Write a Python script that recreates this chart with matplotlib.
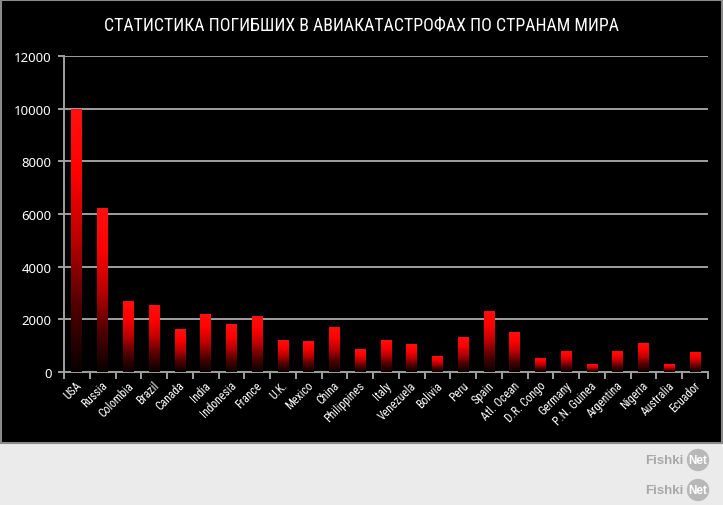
import matplotlib
matplotlib.use("Agg")
import matplotlib.pyplot as plt
import numpy as np
from matplotlib import font_manager
from matplotlib.patches import Rectangle
from matplotlib.colors import LinearSegmentedColormap
from matplotlib.transforms import ScaledTranslation

countries = ["USA", "Russia", "Colombia", "Brazil", "Canada", "India", "Indonesia",
             "France", "U.K.", "Mexico", "China", "Philippines", "Italy", "Venezuela",
             "Bolivia", "Peru", "Spain", "Atl. Ocean", "D.R. Congo", "Germany",
             "P.N. Guinea", "Argentina", "Nigeria", "Australia", "Ecuador"]
deaths = [10000, 6220, 2700, 2550, 1630, 2200, 1820, 2120, 1230, 1190, 1720, 870,
          1230, 1060, 610, 1330, 2330, 1520, 540, 810, 300, 810, 1110, 300, 770]
yticks = [0, 2000, 4000, 6000, 8000, 10000, 12000]
title = "СТАТИСТИКА ПОГИБШИХ В АВИАКАТАСТРОФАХ ПО СТРАНАМ МИРА"

available = {f.name for f in font_manager.fontManager.ttflist}
narrow = None
for cand in ["Liberation Sans Narrow", "Roboto Condensed", "Open Sans Condensed", "DejaVu Sans Condensed"]:
    if cand in available:
        narrow = cand
        break
if narrow is None:
    narrow = "DejaVu Sans"
    narrow_stretch = "condensed"
else:
    narrow_stretch = "normal"

W, H = 723, 506
fig = plt.figure(figsize=(W / 100, H / 100), dpi=100)
fig.patch.set_facecolor("#ebebeb")

# black panel with grey frame
fig.patches.append(Rectangle((1 / W, 62 / H), (W - 2) / W, (H - 63) / H,
                             transform=fig.transFigure, facecolor="black",
                             edgecolor="#8a8a8a", linewidth=1.5, zorder=0))

ax = fig.add_axes([64 / W, (H - 373) / H, (708 - 64) / W, (373 - 57) / H])
ax.set_zorder(2)
ax.set_facecolor("black")

n = len(countries)
x = np.arange(n)
cmap = LinearSegmentedColormap.from_list("redgrad", ["#080000", "#500000", "#bb0000", "#ff0000", "#ff1010"])
grad = np.linspace(0, 1, 256).reshape(-1, 1)

bars = ax.bar(x, deaths, width=0.42, color="none", edgecolor="none", zorder=3)
for b in bars:
    x0, w, h = b.get_x(), b.get_width(), b.get_height()
    im = ax.imshow(grad, extent=[x0, x0 + w, 0, h], origin="lower", aspect="auto",
                   cmap=cmap, zorder=3, interpolation="bilinear")
    im.set_clip_path(b)

ax.set_xlim(-0.5, n - 0.5)
ax.set_ylim(0, 12000)

gridc = "#a0a0a0"
ax.set_yticks(yticks)
ax.yaxis.grid(True, color=gridc, linewidth=1.4, zorder=1)
ax.set_axisbelow(True)
for s in ["top", "right"]:
    ax.spines[s].set_visible(False)
for s in ["left", "bottom"]:
    ax.spines[s].set_color(gridc)
    ax.spines[s].set_linewidth(1.4)
ax.tick_params(axis="y", colors=gridc, length=4, width=1.4, direction="out", pad=5,
               labelcolor="white", labelsize=9.5)
for lab in ax.get_yticklabels():
    lab.set_fontfamily("Noto Sans")

ax.set_xticks(x)
ax.set_xticks(np.arange(n + 1) - 0.5, minor=True)
ax.tick_params(axis="x", which="major", length=0, pad=8)
ax.tick_params(axis="x", which="minor", length=5, width=1.4, color=gridc, direction="out")
ax.set_xticklabels(countries, rotation=45, ha="right", va="center",
                   rotation_mode="anchor", color="white", fontsize=8.5,
                   fontfamily=narrow, fontstretch=narrow_stretch)
shift = ScaledTranslation(3 / 100, 0, fig.dpi_scale_trans)
for lab in ax.get_xticklabels():
    lab.set_transform(lab.get_transform() + shift)

fig.text(362 / W, (H - 26) / H, title, ha="center", va="center", color="white",
         fontsize=12.8, fontfamily=narrow, fontstretch=narrow_stretch)

# watermark
for yc in [461, 491]:
    fig.text(684 / W, (H - yc) / H, "Fishki", ha="right", va="center",
             color="#a8a8a8", fontsize=9.5, fontweight="bold", fontfamily="Liberation Sans")
    fig.text(698 / W, (H - yc) / H, "Net", ha="center", va="center", color="white",
             fontsize=8.5, fontweight="bold", fontfamily="Liberation Sans",
             bbox=dict(boxstyle="circle,pad=0.15", facecolor="#b8b8b8", edgecolor="none"))

fig.savefig("out.png", dpi=100, facecolor=fig.get_facecolor())
